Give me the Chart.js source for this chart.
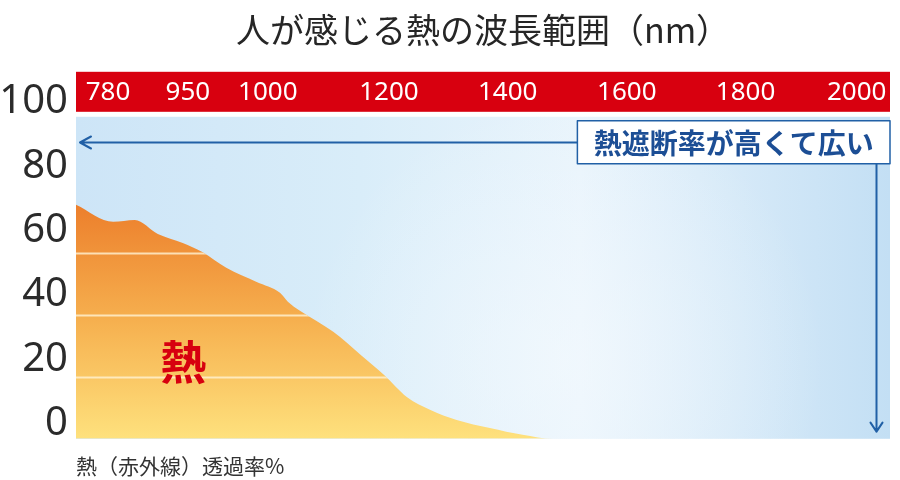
<!DOCTYPE html>
<html>
<head>
<meta charset="utf-8">
<script src="https://cdn.jsdelivr.net/npm/chart.js@4.4.1/dist/chart.umd.min.js"></script>
<style>
  html, body { margin: 0; padding: 0; background: #ffffff; }
  #wrap { width: 900px; height: 480px; }
</style>
</head>
<body>
<div id="wrap"><canvas id="c" width="900" height="480"></canvas></div>
<script>
// ---- data ----
const chartTitle = '人が感じる熱の波長範囲（nm）';
const footLabel = '熱（赤外線）透過率%';
const calloutText = '熱遮断率が高くて広い';
const heatText = '熱';

const xTickValues = [780, 950, 1000, 1200, 1400, 1600, 1800, 2000];   // wavelength ticks (nm)
const yTickValues = [0, 20, 40, 60, 80, 100];                          // % tick labels
const gridValues  = [20, 40, 60, 80];                                  // white guide lines inside the fill

const wavelengths   = [712, 791, 837, 886, 939, 959, 974, 993, 1020, 1033, 1053, 1108, 1153, 1192, 1230, 1269, 1314, 1370, 1425, 1476, 2060];
const transmittance = [75.5, 70.0, 70.6, 66.1, 63.2, 60.3, 55.2, 50.6, 47.1, 44.2, 41.3, 34.5, 27.1, 20.6, 13.5, 9.4, 6.1, 3.5, 1.3, 0, 0];

// ---- a linear scale whose spacing between labelled wavelengths follows the original's uneven layout ----
class BrokenLinearScale extends Chart.LinearScale {
  _slot(v) {
    const nm = this.options.breakValues, sl = this.options.breakSlots;
    let i = 0;
    while (i < nm.length - 2 && v > nm[i + 1]) i++;
    return sl[i] + (v - nm[i]) * (sl[i + 1] - sl[i]) / (nm[i + 1] - nm[i]);
  }
  getPixelForValue(v) {
    const a = this._slot(this.min), b = this._slot(this.max);
    const t = (this._slot(v) - a) / (b - a);
    return this.isHorizontal() ? this.left + t * this.width : this.bottom - t * this.height;
  }
  buildTicks() {
    return this.options.breakValues.map(v => ({ value: v }));
  }
}
BrokenLinearScale.id = 'brokenLinear';
BrokenLinearScale.defaults = {};
Chart.register(BrokenLinearScale);

const Y_MAX = 118.4;

const decor = {
  id: 'decor',
  beforeDraw(chart, args, o) {
    const { ctx, chartArea: a } = chart;
    ctx.save();
    // red wavelength band
    ctx.fillStyle = o.bandColor;
    ctx.fillRect(a.left, a.top, a.width, o.bandHeight);
    // light-blue panel
    const top = a.top + o.bandHeight + o.gap;
    const g = ctx.createLinearGradient(a.left, 0, a.right, 0);
    g.addColorStop(0, '#cde5f7');
    g.addColorStop(0.35, '#d9edf9');
    g.addColorStop(0.62, '#e9f4fc');
    g.addColorStop(1, '#c3dff4');
    ctx.fillStyle = g;
    ctx.fillRect(a.left, top, a.width, a.bottom - top);
    // soft highlight near the lower middle
    const cx = a.left + a.width * 0.6, cy = a.bottom - 80;
    const r = ctx.createRadialGradient(cx, cy, 0, cx, cy, 260);
    r.addColorStop(0, 'rgba(245,250,254,0.6)');
    r.addColorStop(1, 'rgba(245,250,254,0)');
    ctx.fillStyle = r;
    ctx.fillRect(a.left, top, a.width, a.bottom - top);
    ctx.restore();
  },
  afterDatasetsDraw(chart, args, o) {
    const { ctx, chartArea: a, scales } = chart;
    const xs = scales.x, ys = scales.y;
    const meta = chart.getDatasetMeta(0);
    const pts = meta.data;
    const base = ys.getPixelForValue(0);

    // white guide lines clipped to the filled area
    ctx.save();
    ctx.beginPath();
    if (meta.dataset && typeof meta.dataset.path === 'function') {
      meta.dataset.path(ctx);
    } else {
      ctx.moveTo(pts[0].x, pts[0].y);
      for (let i = 1; i < pts.length; i++) ctx.lineTo(pts[i].x, pts[i].y);
    }
    ctx.lineTo(pts[pts.length - 1].x, base);
    ctx.lineTo(pts[0].x, base);
    ctx.closePath();
    ctx.clip();
    ctx.strokeStyle = o.gridColor;
    ctx.lineWidth = 2;
    gridValues.forEach(v => {
      const py = Math.round(ys.getPixelForValue(v)) + 0.5;
      ctx.beginPath();
      ctx.moveTo(a.left, py);
      ctx.lineTo(a.right, py);
      ctx.stroke();
    });
    ctx.restore();

    // 熱 label
    ctx.save();
    ctx.font = 'bold 46px "Noto Sans CJK JP"';
    ctx.fillStyle = '#d7000f';
    ctx.textAlign = 'center';
    ctx.textBaseline = 'middle';
    ctx.fillText(heatText, xs.getPixelForValue(o.heat.x), ys.getPixelForValue(o.heat.y));
    ctx.restore();

    // callout: arrow left, box, arrow down
    const c = o.callout;
    const ay = Math.round(ys.getPixelForValue(c.y)) + 0.5;
    const bx0 = xs.getPixelForValue(c.boxFrom);
    const bx1 = a.right;
    const by0 = ys.getPixelForValue(c.boxTop);
    const by1 = ys.getPixelForValue(c.boxBottom);
    const dx = Math.round(xs.getPixelForValue(c.downX)) + 0.5;
    const dy = ys.getPixelForValue(c.downTo);
    const tipX = a.left + 4;
    ctx.save();
    ctx.strokeStyle = '#2160a6';
    ctx.lineWidth = 2;
    ctx.lineCap = 'round';
    ctx.lineJoin = 'round';
    ctx.beginPath();
    ctx.moveTo(bx0, ay); ctx.lineTo(tipX, ay);
    ctx.moveTo(tipX + 11, ay - 6); ctx.lineTo(tipX, ay); ctx.lineTo(tipX + 11, ay + 6);
    ctx.moveTo(dx, by1); ctx.lineTo(dx, dy);
    ctx.moveTo(dx - 6, dy - 9); ctx.lineTo(dx, dy); ctx.lineTo(dx + 6, dy - 9);
    ctx.stroke();
    // box
    ctx.fillStyle = '#ffffff';
    ctx.fillRect(bx0, by0, bx1 - bx0, by1 - by0);
    ctx.lineWidth = 1.5;
    ctx.strokeRect(bx0, by0, bx1 - bx0, by1 - by0);
    ctx.font = 'bold 28px "Noto Sans CJK JP"';
    ctx.fillStyle = '#1c4e95';
    ctx.textAlign = 'center';
    ctx.textBaseline = 'middle';
    ctx.fillText(calloutText, (bx0 + bx1) / 2, (by0 + by1) / 2 + 1);
    ctx.restore();
  }
};

new Chart(document.getElementById('c'), {
  type: 'line',
  data: {
    datasets: [{
      data: wavelengths.map((w, i) => ({ x: w, y: transmittance[i] })),
      xAxisID: 'x',
      yAxisID: 'y',
      fill: 'origin',
      borderWidth: 0,
      pointRadius: 0,
      cubicInterpolationMode: 'monotone',
      backgroundColor(ctx) {
        const chart = ctx.chart;
        const ys = chart.scales.y;
        if (!chart.chartArea || !ys) return '#f5b050';
        const g = chart.ctx.createLinearGradient(0, ys.getPixelForValue(76), 0, ys.getPixelForValue(0));
        g.addColorStop(0, '#ec7e2b');
        g.addColorStop(0.5, '#f6b04f');
        g.addColorStop(1, '#fee17d');
        return g;
      }
    }]
  },
  options: {
    responsive: false,
    devicePixelRatio: 1,
    animation: false,
    layout: { padding: { left: 0, right: 10, top: 0, bottom: 0 } },
    plugins: {
      legend: { display: false },
      tooltip: { enabled: false },
      title: {
        display: true,
        text: chartTitle,
        fullSize: false,
        color: '#262626',
        font: { family: '"Noto Sans CJK JP"', size: 34, weight: 'normal' },
        padding: { top: 10, bottom: 21 }
      },
      subtitle: {
        display: true,
        text: footLabel,
        position: 'bottom',
        align: 'start',
        fullSize: false,
        color: '#333333',
        font: { family: '"Noto Sans CJK JP"', size: 21, weight: 'normal' },
        padding: { top: 15, bottom: 1 }
      },
      decor: {
        bandColor: '#d8000f',
        bandHeight: 40,
        gap: 5,
        gridColor: 'rgba(255, 243, 212, 0.8)',
        heat: { x: 940, y: 25 },
        callout: { y: 95.8, boxFrom: 1517, boxTop: 102.6, boxBottom: 88.7, downX: 2034, downTo: 2.3 }
      }
    },
    scales: {
      x: {
        type: 'brokenLinear',
        position: { y: Y_MAX },
        min: 712,
        max: 2060,
        breakValues: xTickValues,
        breakSlots: [0, 2, 4, 7.03, 10, 12.98, 15.95, 18.73],
        grid: { display: false, drawTicks: false },
        border: { display: false },
        ticks: {
          color: '#ffffff',
          font: { family: '"Noto Sans"', size: 26 },
          padding: 5,
          autoSkip: false,
          maxRotation: 0,
          callback: v => String(v)
        }
      },
      y: {
        type: 'linear',
        display: false,
        min: 0,
        max: Y_MAX
      },
      yLabel: {
        type: 'linear',
        position: 'left',
        min: -4.66,
        max: 109.3,
        afterBuildTicks: s => { s.ticks = yTickValues.map(v => ({ value: v })); },
        afterFit: s => { s.width = 76; },
        grid: { display: false, drawTicks: false },
        border: { display: false },
        ticks: {
          color: '#2b2b2b',
          font: { family: '"Noto Sans"', size: 40 },
          padding: 8,
          callback: v => String(v)
        }
      }
    }
  },
  plugins: [decor]
});
</script>
</body>
</html>
